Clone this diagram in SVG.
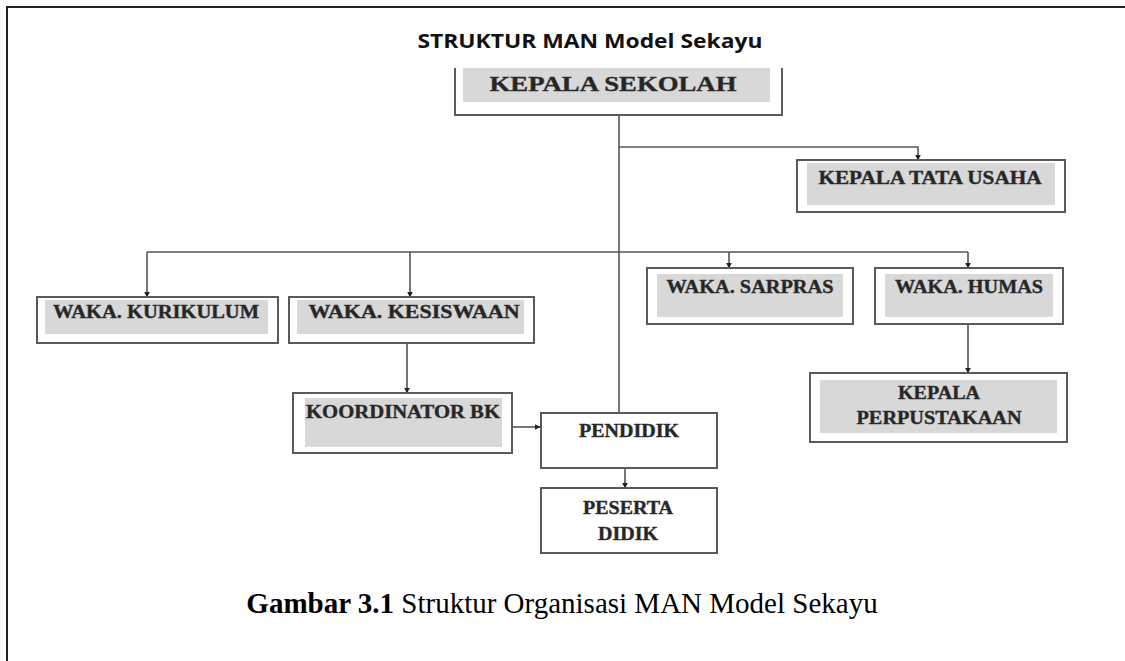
<svg xmlns="http://www.w3.org/2000/svg" width="1125" height="661" viewBox="0 0 1125 661">
<style>
.frame{fill:none;stroke:#222;stroke-width:2}
.box{fill:#fff;stroke:#5a5a5a;stroke-width:2}
.fill{fill:#d8d8d8}
.lbl{font-family:"Liberation Serif",serif;font-weight:bold;fill:#262626;stroke:#333;stroke-width:0.4;text-anchor:middle}
.con{fill:none;stroke:#555;stroke-width:1.6}
</style>
<defs>
<marker id="ah" viewBox="0 0 10 10" refX="9" refY="5" markerWidth="6" markerHeight="6" orient="auto" markerUnits="userSpaceOnUse">
<path d="M0,0 L10,5 L0,10 z" fill="#222"/>
</marker>
</defs>
<rect width="1125" height="661" fill="#fff"/>
<path class="frame" d="M7,661 V7 H1125"/>
<text x="590" y="48" font-family="'Open Sans','Liberation Sans',sans-serif" font-weight="bold" font-size="20" text-anchor="middle" fill="#111" textLength="345" lengthAdjust="spacingAndGlyphs">STRUKTUR MAN Model Sekayu</text>

<g id="connectors">
<path class="con" d="M619,115 V413"/>
<path class="con" d="M619,147 H918 V160" marker-end="url(#ah)"/>
<path class="con" d="M147,252 H968"/>
<path class="con" d="M147,252 V297" marker-end="url(#ah)"/>
<path class="con" d="M410,252 V297" marker-end="url(#ah)"/>
<path class="con" d="M729,252 V268" marker-end="url(#ah)"/>
<path class="con" d="M968,252 V268" marker-end="url(#ah)"/>
<path class="con" d="M968,324 V373" marker-end="url(#ah)"/>
<path class="con" d="M407,343 V393" marker-end="url(#ah)"/>
<path class="con" d="M512,427 H540" marker-end="url(#ah)"/>
<path class="con" d="M625,468 V488" marker-end="url(#ah)"/>
</g>

<g id="kepala-sekolah">
<path class="box" d="M455,68 V115 H782 V68"/>
<rect class="fill" x="463" y="68" width="307" height="34"/>
<text class="lbl" x="613" y="91" font-size="22" textLength="247" lengthAdjust="spacingAndGlyphs">KEPALA SEKOLAH</text>
</g>

<g id="kepala-tata-usaha">
<rect class="box" x="797" y="160" width="268" height="52"/>
<rect class="fill" x="807" y="163" width="248" height="42"/>
<text class="lbl" x="930" y="184" font-size="18" textLength="223" lengthAdjust="spacingAndGlyphs">KEPALA TATA USAHA</text>
</g>

<g id="waka-kurikulum">
<rect class="box" x="37" y="297" width="241" height="46"/>
<rect class="fill" x="45" y="300" width="223" height="34"/>
<text class="lbl" x="156" y="318" font-size="18" textLength="206" lengthAdjust="spacingAndGlyphs">WAKA. KURIKULUM</text>
</g>

<g id="waka-kesiswaan">
<rect class="box" x="289" y="297" width="245" height="46"/>
<rect class="fill" x="297" y="300" width="227" height="34"/>
<text class="lbl" x="414" y="318" font-size="18" textLength="211" lengthAdjust="spacingAndGlyphs">WAKA. KESISWAAN</text>
</g>

<g id="waka-sarpras">
<rect class="box" x="647" y="268" width="206" height="56"/>
<rect class="fill" x="657" y="274" width="186" height="43"/>
<text class="lbl" x="750" y="293" font-size="18" textLength="167" lengthAdjust="spacingAndGlyphs">WAKA. SARPRAS</text>
</g>

<g id="waka-humas">
<rect class="box" x="875" y="268" width="188" height="56"/>
<rect class="fill" x="885" y="274" width="168" height="43"/>
<text class="lbl" x="969" y="293" font-size="18" textLength="148" lengthAdjust="spacingAndGlyphs">WAKA. HUMAS</text>
</g>

<g id="kepala-perpustakaan">
<rect class="box" x="810" y="373" width="257" height="69"/>
<rect class="fill" x="820" y="380" width="237" height="53"/>
<text class="lbl" x="939" y="399" font-size="18" textLength="82" lengthAdjust="spacingAndGlyphs">KEPALA</text>
<text class="lbl" x="939" y="424" font-size="18" textLength="165" lengthAdjust="spacingAndGlyphs">PERPUSTAKAAN</text>
</g>

<g id="koordinator-bk">
<rect class="box" x="293" y="393" width="219" height="60"/>
<rect class="fill" x="305" y="398" width="197" height="49"/>
<text class="lbl" x="403" y="418" font-size="18" textLength="194" lengthAdjust="spacingAndGlyphs">KOORDINATOR BK</text>
</g>

<g id="pendidik">
<rect class="box" x="541" y="413" width="176" height="55"/>
<text class="lbl" x="629" y="437" font-size="18" textLength="100" lengthAdjust="spacingAndGlyphs">PENDIDIK</text>
</g>

<g id="peserta-didik">
<rect class="box" x="541" y="488" width="176" height="65"/>
<text class="lbl" x="628" y="514" font-size="18" textLength="90" lengthAdjust="spacingAndGlyphs">PESERTA</text>
<text class="lbl" x="628" y="540" font-size="18" textLength="60" lengthAdjust="spacingAndGlyphs">DIDIK</text>
</g>

<text x="562" y="613" font-family="'Liberation Serif',serif" font-size="29" text-anchor="middle" fill="#000"><tspan font-weight="bold">Gambar 3.1</tspan> Struktur Organisasi MAN Model Sekayu</text>
</svg>
